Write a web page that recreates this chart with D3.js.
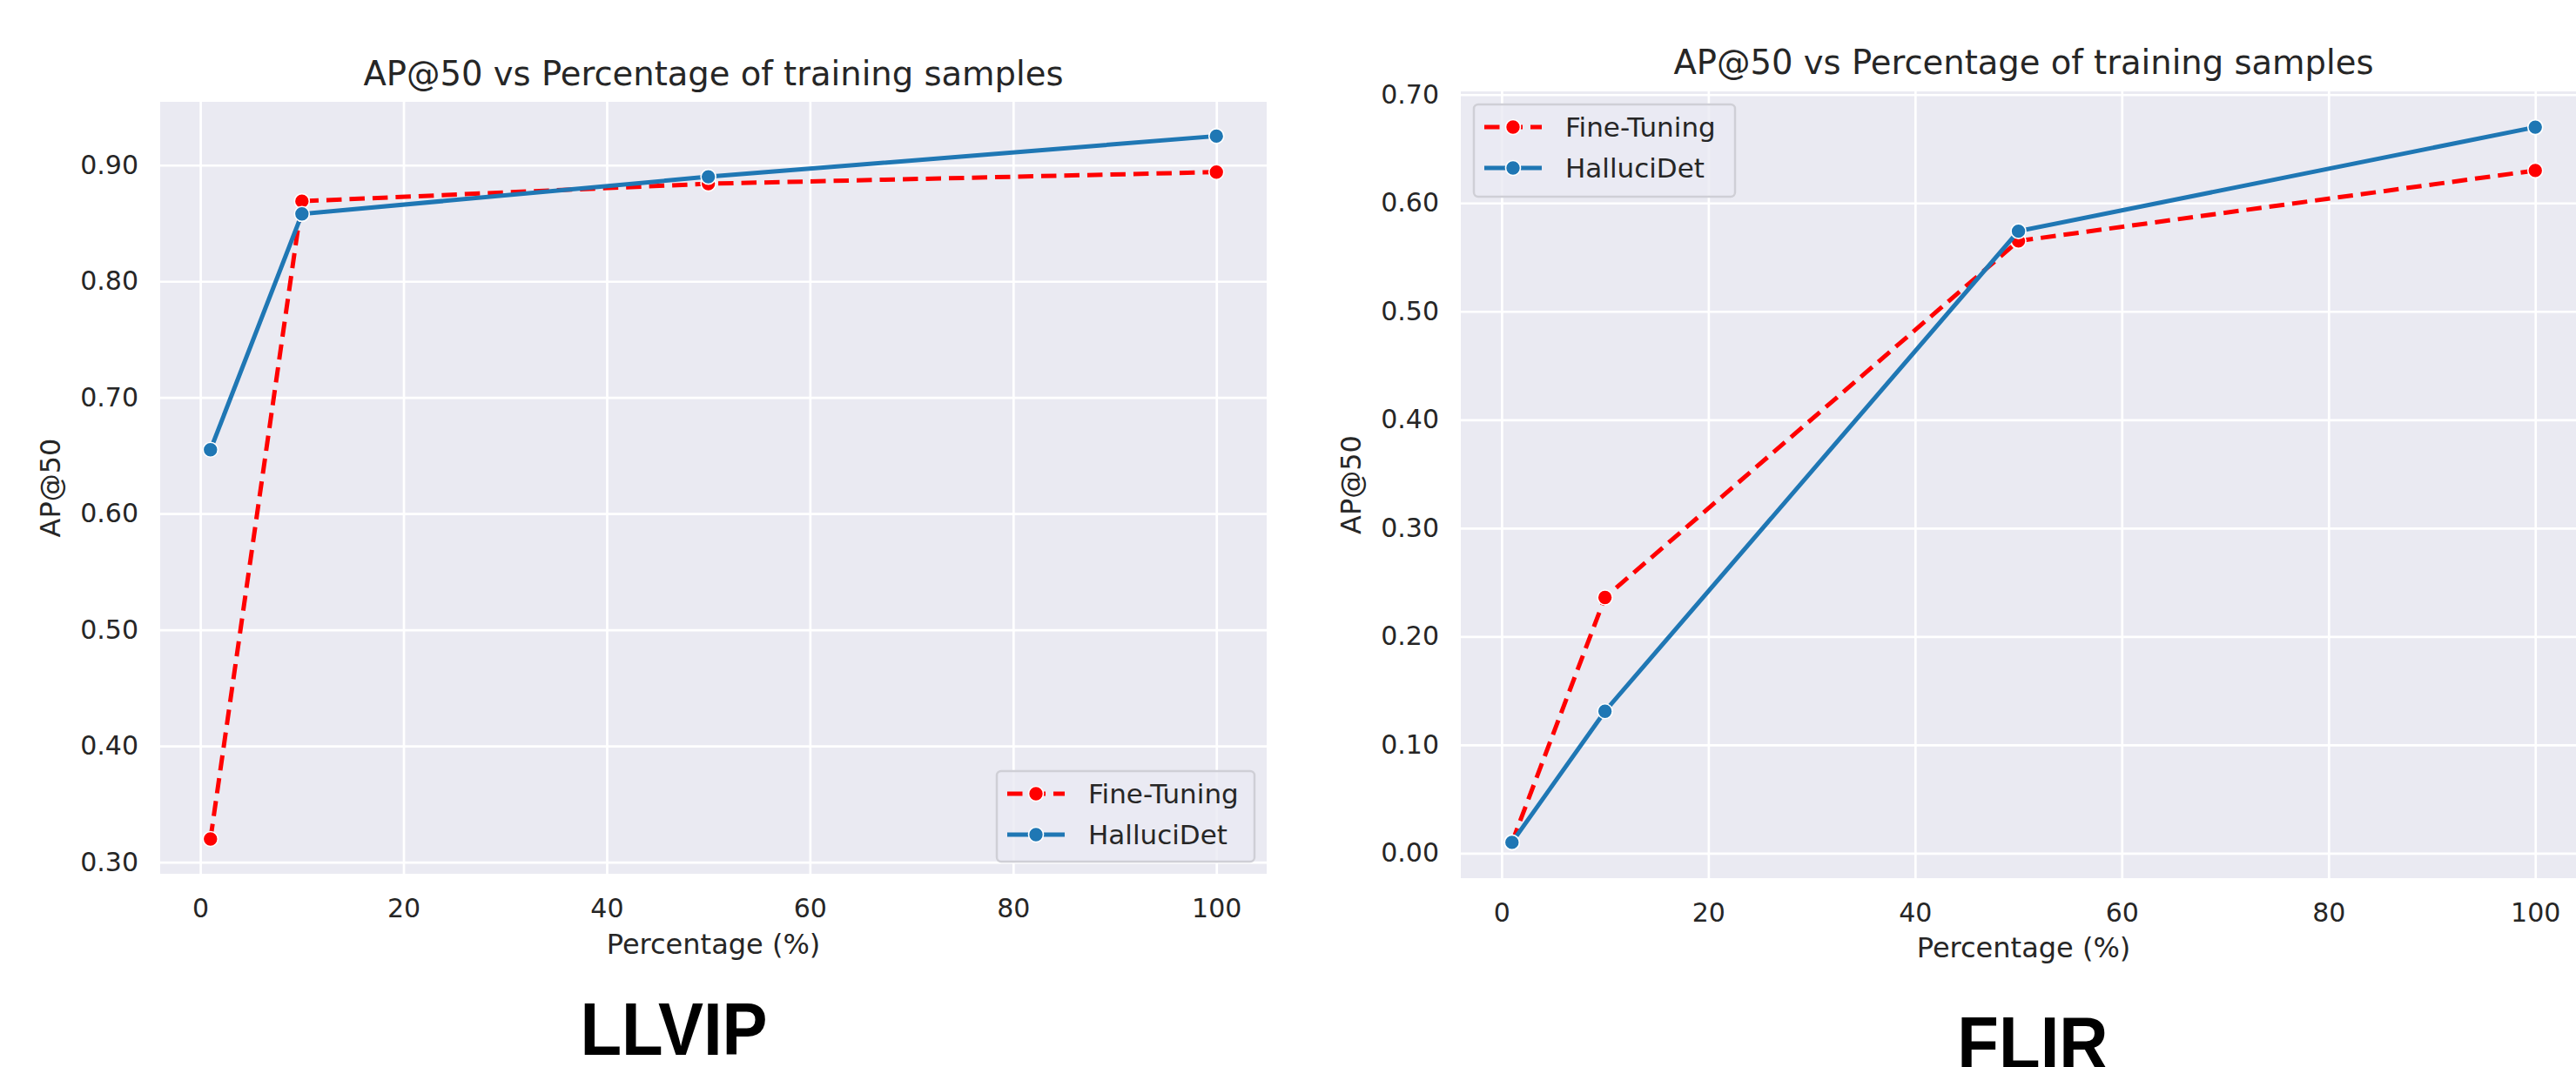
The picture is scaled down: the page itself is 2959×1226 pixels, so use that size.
<!DOCTYPE html>
<html>
<head>
<meta charset="utf-8">
<script src="https://cdn.jsdelivr.net/npm/d3@7"></script>
<style>
  body { margin: 0; background: #ffffff; }
  svg { display: block; }
</style>
</head>
<body>
<script>
// data
const percentages = [1, 10, 50, 100];
const seriesNames = ["Fine-Tuning", "HalluciDet"];
const llvipFineTuning = [0.32, 0.869, 0.884, 0.894];
const llvipHalluciDet = [0.655, 0.858, 0.890, 0.925];
const flirFineTuning = [0.01, 0.236, 0.565, 0.630];
const flirHalluciDet = [0.01, 0.131, 0.574, 0.670];
const xTicks = [0, 20, 40, 60, 80, 100];
const llvipYTicks = [0.3, 0.4, 0.5, 0.6, 0.7, 0.8, 0.9];
const flirYTicks = [0.0, 0.1, 0.2, 0.3, 0.4, 0.5, 0.6, 0.7];
const titleText = "AP@50 vs Percentage of training samples";
const xLabel = "Percentage (%)";
const yLabel = "AP@50";

const colors = { "Fine-Tuning": "#ff0000", "HalluciDet": "#1f77b4" };
const dashes = { "Fine-Tuning": "17.5,9", "HalluciDet": null };
const textColor = "#262626";
const font = "'DejaVu Sans', sans-serif";

const svg = d3.select("body").append("svg")
    .attr("width", 2959)
    .attr("height", 1226);

function drawPanel(p) {
    const x = d3.scaleLinear().domain(p.xDomain).range([p.left, p.right]);
    const y = d3.scaleLinear().domain(p.yDomain).range([p.bottom, p.top]);
    const g = svg.append("g");

    g.append("rect")
        .attr("x", p.left).attr("y", p.top)
        .attr("width", p.right - p.left).attr("height", p.bottom - p.top)
        .attr("fill", "#eaeaf2");

    // grid via axes with full-length ticks
    const xAxis = g.append("g")
        .attr("transform", `translate(0,${p.bottom})`)
        .call(d3.axisBottom(x).tickValues(xTicks).tickSize(-(p.bottom - p.top)).tickPadding(21).tickFormat(d3.format("d")));
    const yAxis = g.append("g")
        .attr("transform", `translate(${p.left},0)`)
        .call(d3.axisLeft(y).tickValues(p.yTicks).tickSize(-(p.right - p.left)).tickPadding(25).tickFormat(d3.format(".2f")));
    [xAxis, yAxis].forEach(a => {
        a.select(".domain").remove();
        a.selectAll(".tick line").attr("stroke", "#ffffff").attr("stroke-width", 2.7);
        a.selectAll(".tick text")
            .attr("fill", textColor)
            .style("font-family", font)
            .style("font-size", "30px");
    });
    xAxis.selectAll(".tick text").attr("dy", "0.95em");

    const line = d3.line().x(d => x(d.x)).y(d => y(d.y));
    p.series.forEach(s => {
        const pts = percentages.map((v, i) => ({ x: v, y: s.values[i] }));
        g.append("path")
            .datum(pts)
            .attr("d", line)
            .attr("fill", "none")
            .attr("stroke", colors[s.name])
            .attr("stroke-width", 5)
            .attr("stroke-dasharray", dashes[s.name]);
        g.selectAll(null)
            .data(pts)
            .enter()
            .append("circle")
            .attr("cx", d => x(d.x))
            .attr("cy", d => y(d.y))
            .attr("r", 8.5)
            .attr("fill", colors[s.name])
            .attr("stroke", "#ffffff")
            .attr("stroke-width", 1.6);
    });

    // legend
    const lg = g.append("g").attr("transform", `translate(${p.legend.x},${p.legend.y})`);
    lg.append("rect")
        .attr("width", p.legend.w).attr("height", p.legend.h)
        .attr("rx", 5)
        .attr("fill", "#eaeaf2").attr("fill-opacity", 0.8)
        .attr("stroke", "#cfcfd6").attr("stroke-width", 2.5);
    seriesNames.forEach((name, i) => {
        const cy = 26 + i * 47;
        lg.append("line")
            .attr("x1", 12).attr("x2", 78)
            .attr("y1", cy).attr("y2", cy)
            .attr("stroke", colors[name])
            .attr("stroke-width", 5)
            .attr("stroke-dasharray", dashes[name]);
        lg.append("circle")
            .attr("cx", 45).attr("cy", cy).attr("r", 8.5)
            .attr("fill", colors[name])
            .attr("stroke", "#ffffff").attr("stroke-width", 1.6);
        lg.append("text")
            .attr("x", 105).attr("y", cy)
            .attr("dy", "0.35em")
            .attr("fill", textColor)
            .style("font-family", font)
            .style("font-size", "31px")
            .text(name);
    });

    const cx = (p.left + p.right) / 2;
    g.append("text")
        .attr("x", cx).attr("y", p.titleY)
        .attr("text-anchor", "middle")
        .attr("fill", textColor)
        .style("font-family", font).style("font-size", "38.5px")
        .text(titleText);
    g.append("text")
        .attr("x", cx).attr("y", p.xLabelY)
        .attr("text-anchor", "middle")
        .attr("fill", textColor)
        .style("font-family", font).style("font-size", "32px")
        .text(xLabel);
    g.append("text")
        .attr("transform", `translate(${p.yLabelX},${(p.top + p.bottom) / 2}) rotate(-90)`)
        .attr("text-anchor", "middle")
        .attr("fill", textColor)
        .style("font-family", font).style("font-size", "32px")
        .text(yLabel);

    g.append("text")
        .attr("transform", `translate(${p.name.x},${p.name.y}) scale(1,1.1)`)
        .attr("text-anchor", "middle")
        .attr("fill", "#000000")
        .style("font-family", "'Liberation Sans', Arial, sans-serif")
        .style("font-weight", "bold")
        .style("font-size", "78px")
        .text(p.name.text);
}

drawPanel({
    left: 184, right: 1455, top: 117, bottom: 1004,
    xDomain: [-3.95, 104.95], yDomain: [0.29, 0.9545],
    yTicks: llvipYTicks,
    series: [
        { name: "Fine-Tuning", values: llvipFineTuning },
        { name: "HalluciDet", values: llvipHalluciDet }
    ],
    legend: { x: 1145, y: 886, w: 296, h: 104 },
    titleY: 98, xLabelY: 1096, yLabelX: 69,
    name: { text: "LLVIP", x: 774, y: 1212 }
});

drawPanel({
    left: 1678, right: 2971, top: 105, bottom: 1009,
    xDomain: [-3.95, 104.95], yDomain: [-0.023, 0.703],
    yTicks: flirYTicks,
    series: [
        { name: "Fine-Tuning", values: flirFineTuning },
        { name: "HalluciDet", values: flirHalluciDet }
    ],
    legend: { x: 1693, y: 120, w: 300, h: 106 },
    titleY: 85, xLabelY: 1100, yLabelX: 1563,
    name: { text: "FLIR", x: 2335, y: 1228 }
});
</script>
</body>
</html>
